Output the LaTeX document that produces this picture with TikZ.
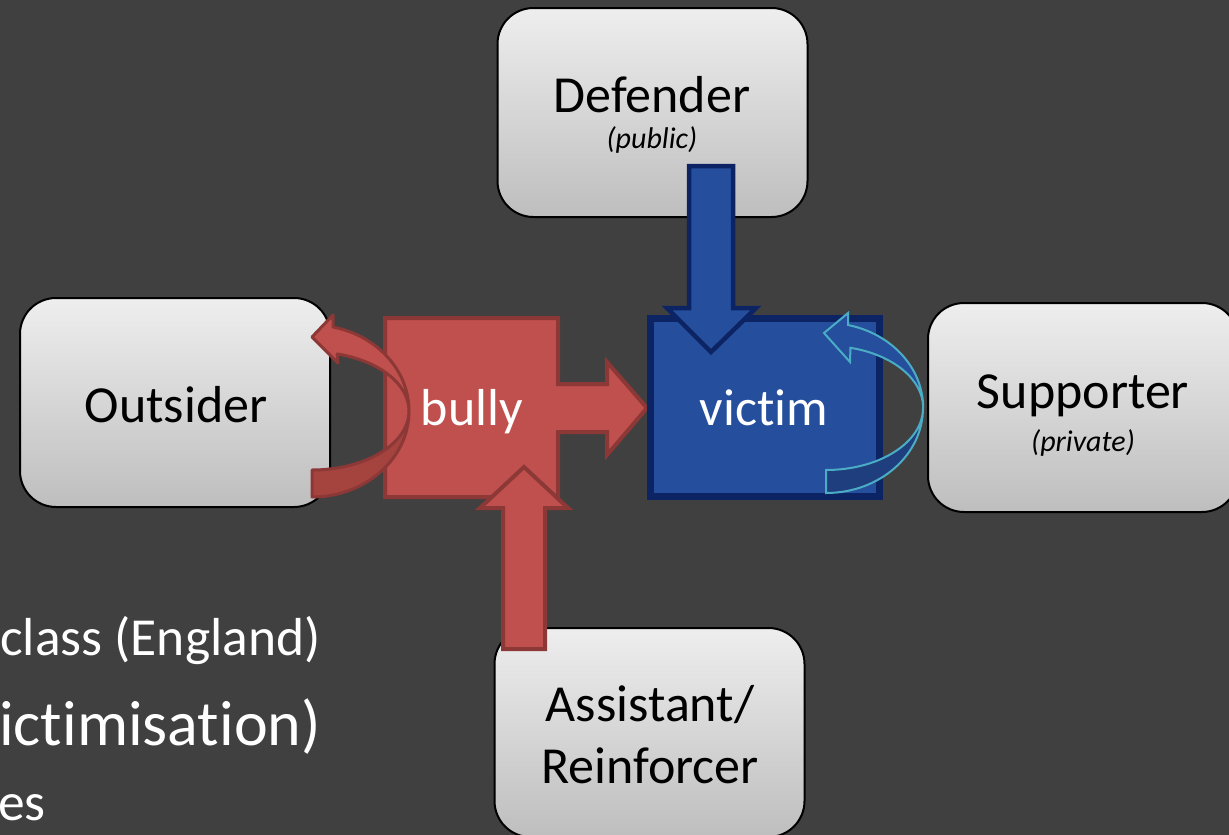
\documentclass[tikz,border=0pt]{standalone}
\usepackage{fontspec}
\setmainfont{Carlito}[Ligatures={NoCommon}]
\definecolor{bg}{RGB}{64,64,64}
\definecolor{bullyfill}{RGB}{192,80,77}
\definecolor{bullyline}{RGB}{140,56,54}
\definecolor{bullyback}{RGB}{165,67,63}
\definecolor{victfill}{RGB}{37,78,156}
\definecolor{victline}{RGB}{12,36,100}
\definecolor{victback}{RGB}{31,62,125}
\definecolor{cyanline}{RGB}{75,172,198}
\definecolor{boxtop}{RGB}{238,238,238}
\definecolor{boxbot}{RGB}{190,190,190}
\tikzset{
  rolebox/.style={draw=black, line width=2pt, rounded corners=36pt, top color=boxtop, bottom color=boxbot,
    minimum width=310pt, minimum height=209pt, inner sep=0pt},
  bigtxt/.style={font=\fontsize{52}{60}\selectfont, anchor=base, inner sep=0pt, text=black},
  smalltxt/.style={font=\fontsize{30}{35}\selectfont\itshape, anchor=base, inner sep=0pt, text=black},
  whitetxt/.style={bigtxt, text=white},
  sidetxt/.style={anchor=base west, inner sep=0pt, text=white},
  redshape/.style={fill=bullyfill, draw=bullyline, line width=4pt, line join=miter},
  blueshape/.style={fill=victfill, draw=victline, line width=4.5pt, line join=miter},
  redcurve/.style={fill=bullyfill, draw=bullyline, line width=3pt, line join=round},
  redcurveback/.style={fill=bullyback, draw=bullyline, line width=3pt, line join=round},
  bluecurve/.style={fill=victfill, draw=cyanline, line width=2pt, line join=miter},
  bluecurveback/.style={fill=victback, draw=cyanline, line width=2pt, line join=miter},
}
\begin{document}
\begin{tikzpicture}[x=1pt, y=-1pt]
\clip (0,0) rectangle (1229,835);
\fill[bg] (0,0) rectangle (1229,835);

% role boxes
\node[rolebox] (defender) at (652.5,112.5) {};
\node[rolebox] (outsider) at (175,402.5) {};
\node[rolebox] (supporter) at (1083,407.5) {};
\node[rolebox] (assistant) at (649.5,732.5) {};

% bully shape (square with right arrow)
\draw[redshape] (385,318) -- (558,318) -- (558,384) -- (607,384) -- (607,362) -- (647,408)
  -- (607,455) -- (607,432) -- (558,432) -- (558,497) -- (385,497) -- cycle;

% up arrow from assistant to bully
\draw[redshape] (503,649) -- (503,508) -- (480,508) -- (524,467) -- (568,508) -- (545,508) -- (545,649) -- cycle;

% victim box
\node[draw=victline, fill=victfill, line width=7pt, minimum width=229pt, minimum height=178pt, inner sep=0pt] (victim) at (765,407.5) {};

% down arrow from defender to victim
\draw[blueshape] (689,166) -- (733,166) -- (733,308) -- (756,308) -- (711,352) -- (667,308) -- (689,308) -- cycle;

% red curved arrow (bully -> outsider)
\draw[redcurveback] (312,470) arc[start angle=90, end angle=0, x radius=97, y radius=59]
  arc[start angle=0, end angle=90, x radius=97, y radius=86] -- cycle;
\draw[redcurve] (333,327) arc[start angle=-77.5, end angle=0, x radius=97, y radius=86]
  arc[start angle=0, end angle=-75, x radius=97, y radius=59]
  -- (338,363) -- (312,337) -- (333,315) -- cycle;

% blue curved arrow (victim self)
\draw[bluecurveback] (826,470) arc[start angle=90, end angle=0, x radius=97, y radius=62]
  arc[start angle=0, end angle=90, x radius=97, y radius=85] -- cycle;
\draw[bluecurve] (848,325) arc[start angle=-77, end angle=0, x radius=97, y radius=85]
  arc[start angle=0, end angle=-75.5, x radius=97, y radius=62]
  -- (850,362) -- (824,333) -- (848,313) -- cycle;

% labels
\node[bigtxt] (tdef) at (652,112) {Defender};
\node[smalltxt] (tpub) at (652,148) {(public)};
\node[bigtxt] (tout) at (176,422) {Outsider};
\node[bigtxt] (tsup) at (1083,408) {Supporter};
\node[smalltxt] (tpriv) at (1083,451) {(private)};
\node[bigtxt] (tass1) at (650,721) {Assistant/};
\node[bigtxt] (tass2) at (650,783) {Reinforcer};
\node[whitetxt] (tbully) at (472,425) {bully};
\node[whitetxt] (tvictim) at (764,425) {victim};

% partly hidden side text
\node[sidetxt, font=\fontsize{53.5}{60}\selectfont] (s1) at (0,655) {class (England)};
\node[sidetxt, font=\fontsize{64}{72}\selectfont] (s2) at (-1,745) {ictimisation)};
\node[sidetxt, font=\fontsize{53.5}{60}\selectfont] (s3) at (-2,820) {es};
\end{tikzpicture}
\end{document}
